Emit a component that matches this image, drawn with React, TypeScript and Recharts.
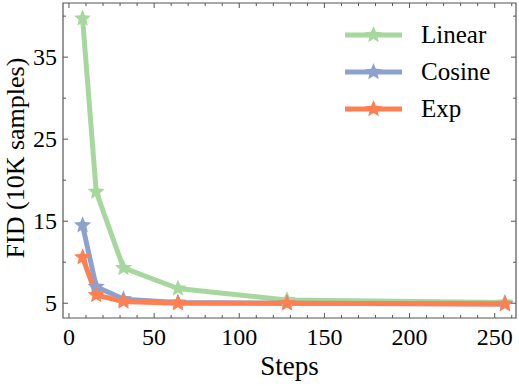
import React from 'react';
import { LineChart, Line, XAxis, YAxis, Legend, ReferenceArea } from 'recharts';

const steps = [8, 16, 32, 64, 128, 256];
const linearFid = [39.7, 18.6, 9.3, 6.8, 5.4, 5.1];
const cosineFid = [14.5, 7.0, 5.5, 5.1, 5.0, 4.9];
const expFid = [10.6, 6.0, 5.2, 5.0, 5.0, 4.9];

const xTicks = [0, 10, 20, 30, 40, 50, 60, 70, 80, 90, 100, 110, 120, 130, 140, 150, 160, 170, 180, 190, 200, 210, 220, 230, 240, 250, 260];
const yTicks = [5, 10, 15, 20, 25, 30, 35, 40];
const xLabels = [0, 50, 100, 150, 200, 250];
const yLabels = [5, 15, 25, 35];

const seriesNames = ['Linear', 'Cosine', 'Exp'];
const seriesColors = ['#a6d89e', '#8ca1cd', '#ff7f50'];

const data = steps.map((s, i) => ({
  step: s,
  Linear: linearFid[i],
  Cosine: cosineFid[i],
  Exp: expFid[i],
}));

const X_DOMAIN: [number, number] = [-3.5, 262.5];
const Y_DOMAIN: [number, number] = [3.2, 41.6];

const FONT = "'Liberation Serif', 'Times New Roman', Times, 'DejaVu Serif', serif";
const FRAME = '#555555';
const PLOT_LEFT = 63;
const PLOT_RIGHT = 516;
const PLOT_TOP = 3;
const PLOT_BOTTOM = 318;

function starPoints(cx: number, cy: number, R: number, r: number) {
  const pts: string[] = [];
  for (let i = 0; i < 10; i++) {
    const ang = -Math.PI / 2 + (i * Math.PI) / 5;
    const rad = i % 2 === 0 ? R : r;
    pts.push(`${(cx + rad * Math.cos(ang)).toFixed(2)},${(cy + rad * Math.sin(ang)).toFixed(2)}`);
  }
  return pts.join(' ');
}

const makeDot = (color: string) => (p: any) => {
  if (p.cx == null || p.cy == null) return <g key={`d-${p.index}`} />;
  return <polygon key={`d-${color}-${p.index}`} points={starPoints(p.cx, p.cy, 9, 4)} fill={color} />;
};

const XTick = (p: any) => {
  const v = p.payload.value;
  const x = p.x;
  const major = xLabels.includes(v);
  const len = major ? 5 : 3;
  return (
    <g>
      <line x1={x} x2={x} y1={PLOT_BOTTOM} y2={PLOT_BOTTOM - len} stroke={FRAME} strokeWidth={1} />
      <line x1={x} x2={x} y1={PLOT_TOP} y2={PLOT_TOP + len} stroke={FRAME} strokeWidth={1} />
      {major ? (
        <text x={x} y={345} textAnchor="middle" fontFamily={FONT} fontSize={24} fill="#000">
          {v}
        </text>
      ) : null}
    </g>
  );
};

const YTick = (p: any) => {
  const v = p.payload.value;
  const y = p.y;
  const major = yLabels.includes(v);
  const len = major ? 5 : 3;
  return (
    <g>
      <line x1={PLOT_LEFT} x2={PLOT_LEFT + len} y1={y} y2={y} stroke={FRAME} strokeWidth={1} />
      <line x1={PLOT_RIGHT} x2={PLOT_RIGHT - len} y1={y} y2={y} stroke={FRAME} strokeWidth={1} />
      {major ? (
        <text x={57} y={y} dy={8} textAnchor="end" fontFamily={FONT} fontSize={24} fill="#000">
          {v}
        </text>
      ) : null}
    </g>
  );
};

const LegendBox = () => (
  <svg width={519} height={130} style={{ display: 'block' }}>
    {seriesNames.map((name, i) => {
      const y = 35 + i * 37;
      return (
        <g key={name}>
          <line x1={345} x2={402} y1={y} y2={y} stroke={seriesColors[i]} strokeWidth={5} />
          <polygon points={starPoints(373.5, y, 9, 4)} fill={seriesColors[i]} />
          <text x={421} y={y} dy={8} fontFamily={FONT} fontSize={25} fill="#000">
            {name}
          </text>
        </g>
      );
    })}
  </svg>
);

export default function App() {
  return (
    <div style={{ position: 'absolute', left: 0, top: 0, width: 519, height: 386, background: '#fff' }}>
      <LineChart width={519} height={386} data={data} margin={{ top: PLOT_TOP, right: 519 - PLOT_RIGHT, bottom: 0, left: 0 }}>
        <XAxis
          dataKey="step"
          type="number"
          domain={X_DOMAIN}
          allowDataOverflow
          ticks={xTicks}
          interval={0}
          height={386 - PLOT_BOTTOM}
          tickLine={false}
          axisLine={false}
          tick={XTick}
          label={{
            content: () => (
              <text x={289.5} y={375} textAnchor="middle" fontFamily={FONT} fontSize={27} fill="#000">
                Steps
              </text>
            ),
          }}
        />
        <YAxis
          type="number"
          domain={Y_DOMAIN}
          allowDataOverflow
          ticks={yTicks}
          interval={0}
          width={PLOT_LEFT}
          tickLine={false}
          axisLine={false}
          tick={YTick}
          label={{
            content: () => (
              <text
                x={24}
                y={158}
                transform="rotate(-90 24 158)"
                textAnchor="middle"
                fontFamily={FONT}
                fontSize={26}
                fill="#000"
              >
                FID (10K samples)
              </text>
            ),
          }}
        />
        <ReferenceArea
          x1={X_DOMAIN[0]}
          x2={X_DOMAIN[1]}
          y1={Y_DOMAIN[0]}
          y2={Y_DOMAIN[1]}
          fill="none"
          fillOpacity={0}
          stroke={FRAME}
          strokeWidth={1.2}
          ifOverflow="visible"
        />
        <Legend
          layout="vertical"
          align="center"
          verticalAlign="middle"
          content={LegendBox}
          wrapperStyle={{ position: 'absolute', left: 0, top: 0, width: 519, height: 130 }}
        />
        {seriesNames.map((name, i) => (
          <Line
            key={name}
            type="linear"
            dataKey={name}
            stroke={seriesColors[i]}
            strokeWidth={5}
            strokeLinejoin="round"
            dot={makeDot(seriesColors[i])}
            activeDot={false}
            isAnimationActive={false}
          />
        ))}
      </LineChart>
    </div>
  );
}
